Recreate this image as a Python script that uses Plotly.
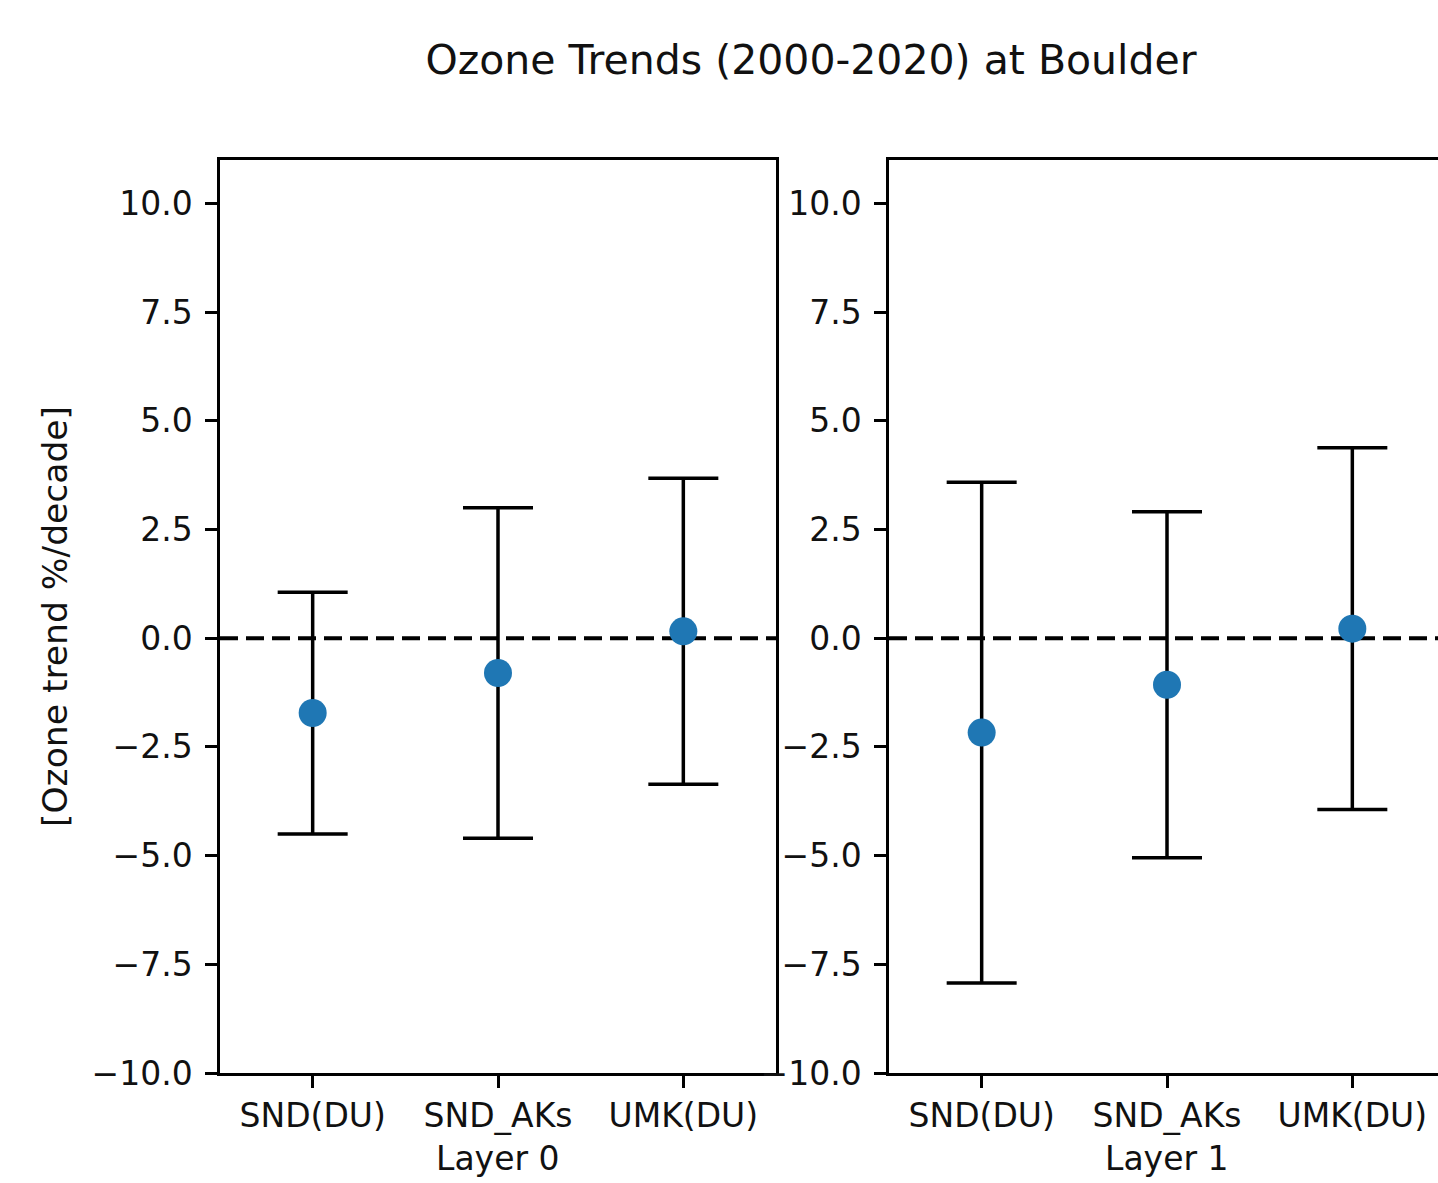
import plotly.graph_objects as go
from plotly.subplots import make_subplots

# Ozone trend estimates (%/decade) with symmetric uncertainties, per layer
methods = ["SND(DU)", "SND_AKs", "UMK(DU)"]
layers = ["Layer 0", "Layer 1"]
trend_layer0 = [-1.72, -0.80, 0.16]
err_layer0 = [2.78, 3.80, 3.52]
trend_layer1 = [-2.17, -1.07, 0.22]
err_layer1 = [5.76, 3.98, 4.16]

y_ticks = [-10.0, -7.5, -5.0, -2.5, 0.0, 2.5, 5.0, 7.5, 10.0]

W, H = 1438, 1183
ML, MR, MT, MB = 220, 0, 160, 110
plot_w = W - ML - MR
plot_h = H - MT - MB
panel_w = 556
panel2_left = 889 - ML

FONT = "DejaVu Sans"
BLUE = "#1f77b4"
TEXT = "#111111"

fig = make_subplots(rows=1, cols=2, shared_yaxes=False)

for col, (trend, err) in enumerate([(trend_layer0, err_layer0),
                                     (trend_layer1, err_layer1)], start=1):
    fig.add_trace(
        go.Scatter(
            x=methods,
            y=trend,
            mode="markers",
            marker=dict(color=BLUE, size=28),
            error_y=dict(type="data", array=err, symmetric=True,
                         color="black", thickness=3.5, width=35),
            showlegend=False,
        ),
        row=1, col=col,
    )
    fig.add_hline(y=0, line=dict(color="black", width=4, dash="18px,8px"),
                  layer="below", row=1, col=col)

axis_common = dict(
    showgrid=False, zeroline=False, showline=True, linecolor="black",
    linewidth=2.5, ticks="outside", ticklen=12, tickwidth=2.5,
    tickcolor="black", tickfont=dict(family=FONT, size=33, color=TEXT),
)

d1 = [0, panel_w / plot_w]
d2 = [panel2_left / plot_w, 1.0]
px_per_cat = panel_w / 3.0
x2_max = -0.5 + (plot_w - panel2_left) / px_per_cat

fig.update_xaxes(domain=d1, range=[-0.5, 2.5], mirror=True, **axis_common,
                 row=1, col=1)
fig.update_xaxes(domain=d2, range=[-0.5, x2_max], mirror=True, **axis_common,
                 row=1, col=2)
for col in (1, 2):
    fig.update_yaxes(range=[-10, 11], tickvals=y_ticks, tickformat=".1f",
                     ticklabelstandoff=6, mirror=(col == 1), **axis_common,
                     row=1, col=col)

# Layer labels below each panel
for left, name in zip([d1[0], d2[0]], layers):
    fig.add_annotation(
        text=name, xref="paper", yref="paper",
        x=left + panel_w / plot_w / 2, y=-(1158 - (H - MB)) / plot_h,
        xanchor="center", yanchor="middle", showarrow=False,
        font=dict(family=FONT, size=33, color=TEXT),
    )

# Shared y-axis label
fig.add_annotation(
    text="[Ozone trend %/decade]", xref="paper", yref="paper",
    x=(55 - ML) / plot_w, y=(H - MB - 617) / plot_h,
    xanchor="center", yanchor="middle", textangle=-90, showarrow=False,
    font=dict(family=FONT, size=34.5, color=TEXT),
)

fig.update_layout(
    width=W, height=H,
    margin=dict(l=ML, r=MR, t=MT, b=MB, autoexpand=False),
    paper_bgcolor="white", plot_bgcolor="white",
    title=dict(text="Ozone Trends (2000-2020) at Boulder",
               xref="paper", x=(811 - ML) / plot_w, xanchor="center",
               yref="container", y=1 - 60 / H, yanchor="middle",
               font=dict(family=FONT, size=41, color=TEXT)),
)

fig.write_html("out.html")
